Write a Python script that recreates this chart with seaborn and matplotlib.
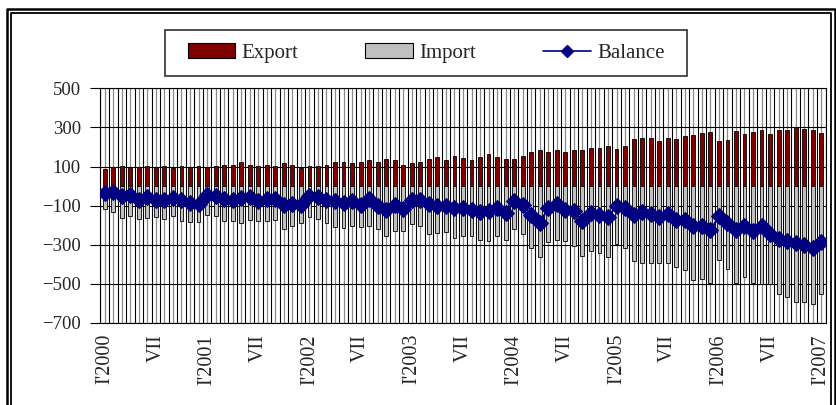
import matplotlib
matplotlib.use("Agg")
import matplotlib.pyplot as plt
from matplotlib.patches import Patch, Rectangle
from matplotlib.lines import Line2D
import numpy as np
import pandas as pd
import seaborn as sns

# monthly data, I'2000 .. I'2007
months = pd.date_range("2000-01", "2007-01", freq="MS").strftime("%Y-%m").tolist()

export = [85, 97, 102, 97, 97, 102, 97, 102, 90, 102, 97, 102, 97, 102,
          110, 110, 124, 110, 102, 110, 102, 119, 110, 93, 102, 102, 110, 124,
          124, 119, 124, 133, 124, 139, 133, 110, 119, 124, 139, 148, 133, 156,
          145, 133, 148, 162, 148, 139, 139, 156, 175, 182, 175, 182, 175, 182,
          182, 196, 196, 204, 191, 204, 239, 247, 247, 233, 247, 239, 256, 261,
          273, 278, 230, 235, 281, 264, 278, 285, 264, 285, 285, 302, 293, 285, 269]

imports = [-117, -133, -163, -155, -168, -163, -160, -168, -155, -177, -184, -184, -146, -153,
           -180, -180, -189, -172, -180, -180, -172, -218, -203, -189, -160, -167, -189, -209,
           -215, -206, -211, -206, -220, -254, -228, -228, -194, -203, -244, -240, -235, -265,
           -254, -254, -274, -283, -254, -274, -218, -244, -317, -363, -286, -274, -283, -305,
           -357, -334, -343, -363, -295, -317, -385, -391, -394, -394, -394, -415, -428, -480,
           -475, -497, -377, -424, -497, -467, -497, -500, -500, -551, -568, -591, -591, -604, -551]

balance = [-35, -30, -52, -47, -69, -56, -69, -69, -61, -69, -86, -90, -44, -52,
           -64, -69, -61, -56, -78, -64, -64, -95, -90, -95, -49, -56, -69, -78,
           -86, -78, -95, -66, -100, -124, -95, -115, -69, -73, -91, -100, -100, -112,
           -112, -124, -133, -129, -112, -136, -74, -95, -146, -189, -112, -90, -121, -129,
           -180, -136, -146, -160, -100, -112, -146, -135, -141, -158, -143, -172, -172, -205,
           -206, -227, -155, -189, -227, -203, -232, -203, -244, -271, -283, -292, -300, -317, -288]

tick_labels = ["I'2000", "VII", "I'2001", "VII", "I'2002", "VII", "I'2003", "VII",
               "I'2004", "VII", "I'2005", "VII", "I'2006", "VII", "I'2007"]

df = pd.DataFrame({"month": months, "export": export, "import": imports, "balance": balance})

sns.set_theme(style="white")
plt.rcParams["font.family"] = ["Liberation Serif", "DejaVu Serif"]

W, H = 837.0, 405.0
fig = plt.figure(figsize=(W / 100, H / 100), dpi=100)
ax = fig.add_axes([0.12, 0.2025, 0.8663, 0.5795])

n = len(months)
# grid: black at category borders, grey through the centres
ax.vlines(np.arange(n + 1) - 0.5, -700, 500, color="black", lw=0.8, zorder=0)
ax.vlines(np.arange(n), -700, 500, color="#8c8c8c", lw=0.9, zorder=0)
for yv in range(-700, 501, 200):
    ax.axhline(yv, color="black", lw=0.8, zorder=0)

sns.barplot(data=df, x="month", y="export", order=months, color="#800000",
            saturation=1, width=0.45, edgecolor="black", linewidth=0.6, ax=ax, zorder=2)
sns.barplot(data=df, x="month", y="import", order=months, color="#c0c0c0",
            saturation=1, width=0.45, edgecolor="black", linewidth=0.6, ax=ax, zorder=2)
sns.lineplot(data=df, x="month", y="balance", sort=False, color="#000080", lw=1.5,
             marker="D", markersize=8, markeredgecolor="#000080", ax=ax, zorder=3)

ax.set_xlim(-0.5, n - 0.5)
ax.set_ylim(-700, 500)
ax.set_yticks(range(-700, 501, 200))
ax.set_xticks(range(0, n, 6))
ax.set_xticklabels(tick_labels, rotation=90)
ax.set_xlabel("")
ax.set_ylabel("")
ax.tick_params(axis="y", length=7, width=0.8, color="black", left=True, pad=7, labelsize=13.5)
ax.tick_params(axis="x", length=0, pad=8, labelsize=14.5)
for s in ax.spines.values():
    s.set_color("black")
    s.set_linewidth(0.8)

handles = [Patch(facecolor="#800000", edgecolor="black", lw=0.8),
           Patch(facecolor="#c0c0c0", edgecolor="black", lw=0.8),
           Line2D([], [], color="#000080", lw=1.2, marker="D", markersize=6)]
fig.legend(handles, ["Export", "Import", "Balance"], ncol=3, loc="center",
           bbox_to_anchor=(426 / W, 1 - 53 / H), frameon=False,
           fontsize=15, handlelength=2.3, handleheight=0.75, handletextpad=0.3,
           columnspacing=3.2)
# legend box
fig.add_artist(Rectangle((165 / W, 1 - 76 / H), 522 / W, 46 / H, transform=fig.transFigure,
                         fill=False, edgecolor="#303030", lw=1.2))

# double frame round the picture: (left, top, right) in pixels
for left, top, right, lw in [(7, 9, 835, 1.8), (11, 13, 831, 1.3)]:
    x0, x1 = left / W, right / W
    y1 = 1 - top / H
    fig.add_artist(Line2D([x0, x0, x1, x1], [-0.05, y1, y1, -0.05],
                          transform=fig.transFigure, color="black", lw=lw))

fig.savefig("out.png", dpi=100)
